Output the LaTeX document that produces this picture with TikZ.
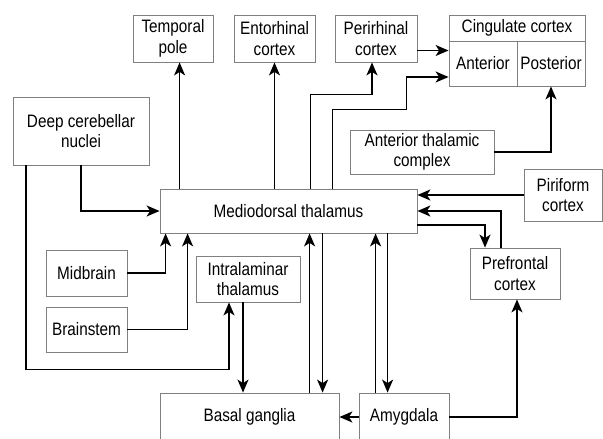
\documentclass[tikz,border=0pt]{standalone}
\usepackage{fontspec}
\setmainfont{Liberation Sans}[FakeStretch=0.85]
\usetikzlibrary{arrows.meta}
\tikzset{
  region/.style={draw=gray, line width=0.8pt, fill=white, inner sep=0pt,
    align=center, font=\fontsize{18}{20.5}\selectfont},
  link/.style={line width=1.7pt, -{Stealth[length=13pt,width=11pt,inset=3.5pt]}},
}
\begin{document}
\begin{tikzpicture}[x=1pt,y=-1pt]
  \useasboundingbox (0,0) rectangle (603,439);
  \clip (0,0) rectangle (603,439);
  % top row
  \node[region, minimum width=80, minimum height=47] (tp) at (173,38.5) {Temporal\\pole};
  \node[region, minimum width=81, minimum height=47] (ent) at (274.5,38.5) {Entorhinal\\cortex};
  \node[region, minimum width=82, minimum height=47] (peri) at (376,38.5) {Perirhinal\\cortex};
  \node[region, minimum width=136, minimum height=26] (cing) at (517,28) {Cingulate cortex};
  \node[region, minimum width=68, minimum height=45] (ant) at (483,63.5) {Anterior};
  \node[region, minimum width=68, minimum height=45] (post) at (551,63.5) {Posterior};
  % middle
  \node[region, minimum width=136, minimum height=68] (dcn) at (81,131) {Deep cerebellar\\nuclei};
  \node[region, minimum width=144, minimum height=44] (atc) at (422,152) {Anterior thalamic\\complex};
  \node[region, minimum width=257, minimum height=44] (md) at (288.5,211) {Mediodorsal thalamus};
  \node[region, minimum width=78, minimum height=52] (pir) at (563,195) {Piriform\\cortex};
  \node[region, minimum width=81, minimum height=46] (mid) at (86.5,273) {Midbrain};
  \node[region, minimum width=81, minimum height=45] (brain) at (86.5,329.5) {Brainstem};
  \node[region, minimum width=104, minimum height=46] (intra) at (248,279) {Intralaminar\\thalamus};
  \node[region, minimum width=90, minimum height=51] (pfc) at (515,273.5) {Prefrontal\\cortex};
  % bottom row, cut by the frame
  \node[region, minimum width=179, minimum height=48] (bg) at (249.5,417) {Basal ganglia};
  \node[region, minimum width=90, minimum height=48] (amy) at (404,417) {Amygdala};
  % out of the mediodorsal thalamus, upwards
  \draw[link] ([xshift=20]md.north west) -- ([xshift=20]md.north west |- tp.south);
  \draw[link] (ent.south |- md.north) -- (ent.south);
  \draw[link] ([xshift=151]md.north west) |- ([xshift=-4,yshift=-32]peri.south) -- ([xshift=-4]peri.south);
  \draw[link] ([xshift=173]md.north west) -- ++(0,-79) -- ++(74,0) |- ([yshift=-13.5]ant.west);
  \draw[link] ([yshift=-12]peri.east) -- ([yshift=-12]peri.east -| ant.west);
  \draw[link] (atc.east) -| (post.south);
  % right side
  \draw[link] (pir.west) -- (pir.west -| md.east);
  \draw[link] ([xshift=-14]pfc.north) |- (md.east);
  \draw[link] ([yshift=-14]md.east) -| ([xshift=-30]pfc.north);
  % left side
  \draw[link] (dcn.south) |- (md.west);
  \draw[link] ([xshift=-55]dcn.south) |- ([xshift=-19,yshift=-67]intra.south) -- ([xshift=-19]intra.south);
  \draw[link] (mid.east) -| ([xshift=6]md.south west);
  \draw[link] (brain.east) -| ([xshift=28]md.south west);
  \draw[link] ([xshift=-5]intra.south) -- ([xshift=-5]intra.south |- bg.north);
  % down to basal ganglia and amygdala
  \draw[link] ([xshift=150]bg.north west) -- ([xshift=150]bg.north west |- md.south);
  \draw[link] ([xshift=163]md.south west) -- ([xshift=163]md.south west |- bg.north);
  \draw[link] ([xshift=17]amy.north west) -- ([xshift=17]amy.north west |- md.south);
  \draw[link] ([xshift=228]md.south west) -- ([xshift=228]md.south west |- amy.north);
  \draw[link] (amy.west) -- (amy.west -| bg.east);
  \draw[link] (amy.east) -| ([xshift=2]pfc.south);
\end{tikzpicture}
\end{document}
